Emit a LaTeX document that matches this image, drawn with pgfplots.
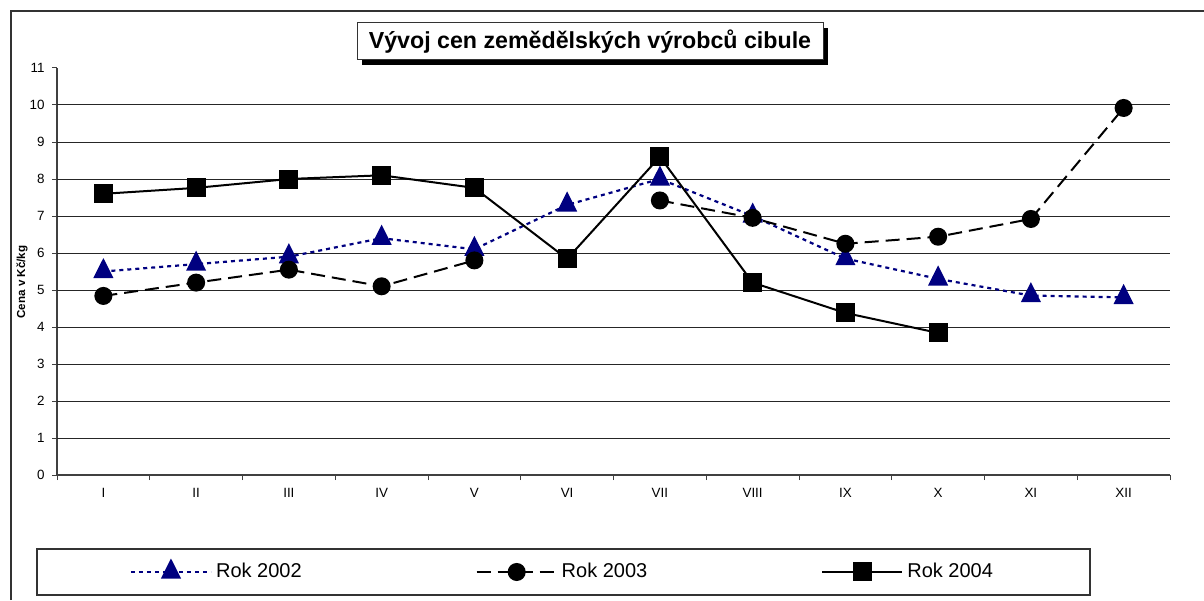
\documentclass[border=0pt]{standalone}
\usepackage{fontspec}
\setmainfont{Liberation Sans}
\usepackage{pgfplots}
\pgfplotsset{compat=1.18}
\usetikzlibrary{shadows}
\definecolor{navy}{RGB}{0,0,128}

\begin{document}
\begin{tikzpicture}
\path[use as bounding box] (0,0) rectangle (602pt,300pt);
% outer chart frame
\draw[black!80, line width=0.6pt] (5.5pt,0) -- (5.5pt,294.5pt) -- (602pt,294.5pt);

\begin{axis}[
  at={(28.5pt,62.5pt)}, anchor=south west,
  scale only axis, width=556.5pt, height=203.5pt,
  xmin=-0.5, xmax=11.5, ymin=0, ymax=11,
  axis x line*=bottom, axis y line*=left,
  axis line style={black!75, line width=0.6pt, -},
  tick align=outside,
  xtick={0,...,11},
  xticklabels={I,II,III,IV,V,VI,VII,VIII,IX,X,XI,XII},
  major x tick style={draw=none},
  minor xtick={-0.5,0.5,...,11.5},
  minor tick length=2.5pt,
  ytick={0,...,11},
  major tick length=2.5pt,
  tick style={black!75, line width=0.5pt},
  extra y ticks={1,...,10},
  extra y tick labels={},
  extra y tick style={grid=major, major tick length=0pt},
  major grid style={black!85, line width=0.5pt},
  tick label style={font=\fontsize{6.7}{7}\selectfont},
  /pgf/number format/assume math mode=true,
  yticklabel style={inner sep=0pt, xshift=-3.5pt},
  xticklabel style={inner sep=0pt, yshift=-4pt},
  ylabel={Cena v Kč/kg},
  ylabel style={font=\fontsize{5.8}{6}\selectfont\bfseries,
    at={(axis description cs:-0.0315,0.474)}, anchor=center},
  unbounded coords=jump,
  legend columns=3,
  legend style={draw=none, fill=none, at={(axis description cs:0.455,-0.2383)},
    anchor=center, font=\fontsize{10}{12}\selectfont,
    /tikz/every even column/.append style={column sep=85pt}},
  legend image code/.code={\draw[mark repeat=2,mark phase=2]
    plot coordinates {(0pt,0pt) (20pt,0pt) (40pt,0pt)};},
]
\addplot[navy, line width=1.1pt, dash pattern=on 2pt off 2pt,
  mark=triangle*, mark size=4.8pt, mark options={solid, fill=navy, yscale=1.15}]
  coordinates {(0,5.5) (1,5.7) (2,5.9) (3,6.4) (4,6.1) (5,7.3) (6,8.0)
    (7,7.0) (8,5.85) (9,5.3) (10,4.85) (11,4.8)};
\addlegendentry{Rok 2002}
\addplot[black, line width=1pt, dash pattern=on 7pt off 3.5pt,
  mark=*, mark size=4pt, mark options={solid, fill=black}]
  coordinates {(0,4.84) (1,5.2) (2,5.55) (3,5.1) (4,5.8) (5,nan) (6,7.42)
    (7,6.95) (8,6.25) (9,6.44) (10,6.92) (11,9.92)};
\addlegendentry{Rok 2003}
\addplot[black, line width=1pt, solid,
  mark=square*, mark size=4.25pt, mark options={fill=black}]
  coordinates {(0,7.6) (1,7.76) (2,8.0) (3,8.1) (4,7.76) (5,5.84) (6,8.6)
    (7,5.2) (8,4.38) (9,3.84)};
\addlegendentry{Rok 2004}
\end{axis}

% legend frame
\draw[black!80, line width=0.6pt] (18.5pt,2.5pt) rectangle (545pt,25.5pt);
% title
\node[draw=black!80, fill=white, line width=0.5pt, minimum width=233pt,
  minimum height=18.5pt, inner sep=0pt,
  drop shadow={shadow xshift=2.5pt, shadow yshift=-2.5pt, fill=black, opacity=1},
  font=\bfseries\fontsize{11.6}{13}\selectfont]
  at (295pt,279.25pt) {Vývoj cen zemědělských výrobců cibule};
\end{tikzpicture}
\end{document}
